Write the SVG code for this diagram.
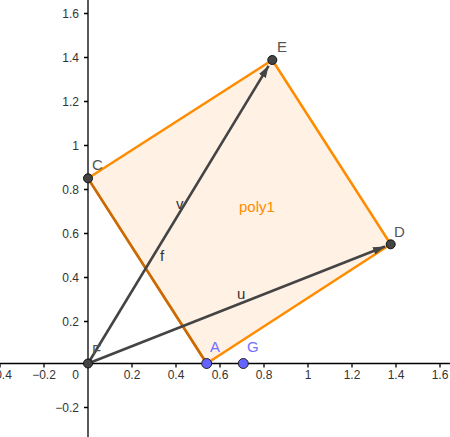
<svg xmlns="http://www.w3.org/2000/svg" width="450" height="437" viewBox="0 0 450 437">
<style>
.tick{font-family:"Liberation Sans",Arial,sans-serif;font-size:12px;fill:#333}
.tx{text-anchor:middle}
.ty{text-anchor:end}
.lbl{font-family:"Liberation Sans",Arial,sans-serif;font-size:15px;fill:#555}
.blue{fill:#7070ff}
.axis{stroke:#000;stroke-width:1.3;fill:none}
.vec{stroke:#444;stroke-width:2.6;fill:none;marker-end:url(#arr)}
.pt{fill:#444;stroke:#111;stroke-width:1}
.bpt{fill:#6363ff;stroke:#222;stroke-width:1}
</style>
<defs>
<marker id="arr" viewBox="0 0 12 8" refX="12" refY="4" markerWidth="12" markerHeight="8" markerUnits="userSpaceOnUse" orient="auto">
<path d="M0,0 L12,4 L0,8 z" fill="#444"/>
</marker>
</defs>
<rect width="450" height="437" fill="#fff"/>
<g id="axes">
<line class="axis" x1="0" y1="363.5" x2="450" y2="363.5"/>
<line class="axis" x1="88" y1="0" x2="88" y2="437"/>
<path class="axis" d="M0,363.5v4 M44,363.5v4 M132,363.5v4 M176,363.5v4 M220,363.5v4 M264,363.5v4 M308,363.5v4 M352,363.5v4 M396,363.5v4 M440,363.5v4"/>
<path class="axis" d="M88,13.5h-4 M88,57.5h-4 M88,101.5h-4 M88,145.5h-4 M88,189.5h-4 M88,233.5h-4 M88,277.5h-4 M88,321.5h-4 M88,407.5h-4"/>
<text class="tick tx" x="0" y="379">−0.4</text>
<text class="tick tx" x="44" y="379">−0.2</text>
<text class="tick ty" x="79" y="379">0</text>
<text class="tick tx" x="132" y="379">0.2</text>
<text class="tick tx" x="176" y="379">0.4</text>
<text class="tick tx" x="220" y="379">0.6</text>
<text class="tick tx" x="264" y="379">0.8</text>
<text class="tick tx" x="308" y="379">1</text>
<text class="tick tx" x="352" y="379">1.2</text>
<text class="tick tx" x="396" y="379">1.4</text>
<text class="tick tx" x="440" y="379">1.6</text>
<text class="tick ty" x="79" y="18">1.6</text>
<text class="tick ty" x="79" y="62">1.4</text>
<text class="tick ty" x="79" y="106">1.2</text>
<text class="tick ty" x="79" y="150">1</text>
<text class="tick ty" x="79" y="194">0.8</text>
<text class="tick ty" x="79" y="238">0.6</text>
<text class="tick ty" x="79" y="282">0.4</text>
<text class="tick ty" x="79" y="326">0.2</text>
<text class="tick ty" x="79" y="412">−0.2</text>
</g>
<g id="poly1">
<polygon points="206.7,363.5 390.7,244.3 272.3,60 88,178.3" fill="#fff1e3" stroke="#ff8c00" stroke-width="2.5" stroke-linejoin="round"/>
<text x="239" y="212" font-family="Liberation Sans, Arial, sans-serif" font-size="15" fill="#ff8c00">poly1</text>
</g>
<g id="connectors">
<line id="f" x1="88" y1="178.3" x2="206.7" y2="363.5" stroke="#c86a0a" stroke-width="2.5"/>
<line id="v" class="vec" x1="88" y1="363.5" x2="268.6" y2="65.8"/>
<line id="u" class="vec" x1="88" y1="363.5" x2="385" y2="246.5"/>
<text class="lbl" x="160" y="261" fill="#333" style="fill:#333">f</text>
<text class="lbl" x="176" y="209" style="fill:#333">v</text>
<text class="lbl" x="237" y="299" style="fill:#333">u</text>
</g>
<g id="F"><circle class="pt" cx="88" cy="363.5" r="4.5"/><text class="lbl" x="92" y="355">F</text></g>
<g id="C"><circle class="pt" cx="88" cy="178.3" r="4.5"/><text class="lbl" x="92" y="170">C</text></g>
<g id="E"><circle class="pt" cx="272.3" cy="60" r="4.5"/><text class="lbl" x="277" y="52">E</text></g>
<g id="D"><circle class="pt" cx="390.7" cy="244.3" r="4.5"/><text class="lbl" x="394" y="237">D</text></g>
<g id="A"><circle class="bpt" cx="206.7" cy="363.5" r="5"/><text class="lbl blue" x="210" y="352">A</text></g>
<g id="G"><circle class="bpt" cx="243.3" cy="363.5" r="5"/><text class="lbl blue" x="247" y="352">G</text></g>
</svg>
